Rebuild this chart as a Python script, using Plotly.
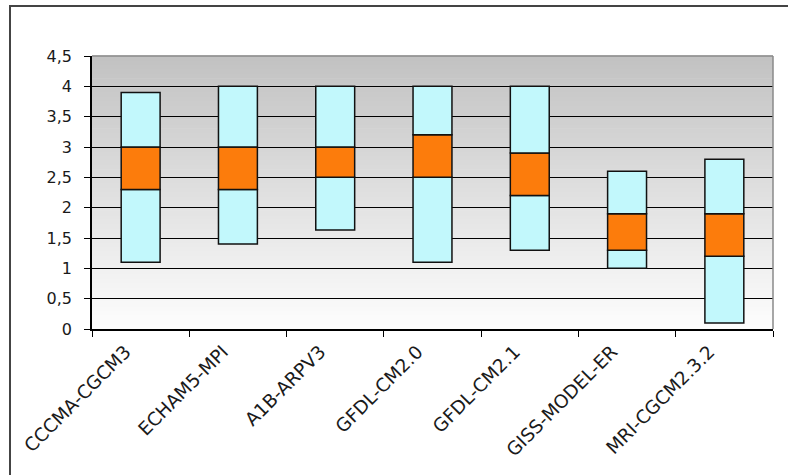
import plotly.graph_objects as go

models = ["CCCMA-CGCM3", "ECHAM5-MPI", "A1B-ARPV3", "GFDL-CM2.0",
          "GFDL-CM2.1", "GISS-MODEL-ER", "MRI-CGCM2.3.2"]
minimum = [1.1, 1.4, 1.63, 1.1, 1.3, 1.0, 0.1]
lower_q = [2.3, 2.3, 2.5, 2.5, 2.2, 1.3, 1.2]
upper_q = [3.0, 3.0, 3.0, 3.2, 2.9, 1.9, 1.9]
maximum = [3.9, 4.0, 4.0, 4.0, 4.0, 2.6, 2.8]

y_tickvals = [0, 0.5, 1, 1.5, 2, 2.5, 3, 3.5, 4, 4.5]
y_ticktext = ["0", "0,5", "1", "1,5", "2", "2,5", "3", "3,5", "4", "4,5"]

CYAN = "#c2f8fc"
ORANGE = "#fc7c0c"
EDGE = dict(color="#111111", width=1.5)

fig = go.Figure()
fig.add_trace(go.Bar(x=models, base=minimum,
                     y=[l - m for l, m in zip(lower_q, minimum)],
                     marker=dict(color=CYAN, line=EDGE), showlegend=False))
fig.add_trace(go.Bar(x=models, base=lower_q,
                     y=[u - l for u, l in zip(upper_q, lower_q)],
                     marker=dict(color=ORANGE, line=EDGE), showlegend=False))
fig.add_trace(go.Bar(x=models, base=upper_q,
                     y=[m - u for m, u in zip(maximum, upper_q)],
                     marker=dict(color=CYAN, line=EDGE), showlegend=False))

# gradient background (grey at top -> white at bottom)
shapes = []
n = 60
top = (0xc2, 0xc2, 0xc2)
bot = (0xfd, 0xfd, 0xfd)
for i in range(n):
    t = i / (n - 1)
    c = tuple(round(bot[k] + (top[k] - bot[k]) * t) for k in range(3))
    shapes.append(dict(type="rect", xref="paper", yref="paper",
                       x0=0, x1=1, y0=i / n, y1=(i + 1) / n + 0.002,
                       fillcolor="rgb(%d,%d,%d)" % c, line=dict(width=0),
                       layer="below"))
# plot-area border (top and right, grey)
shapes.append(dict(type="line", xref="paper", yref="paper", x0=0, x1=1, y0=1, y1=1,
                   line=dict(color="#8a8a8a", width=1.5)))
shapes.append(dict(type="line", xref="paper", yref="paper", x0=1, x1=1, y0=0, y1=1,
                   line=dict(color="#8a8a8a", width=1.5)))

W, H = 788, 475
L, R, T, B = 92, 15, 56, 146
pw, ph = W - L - R, H - T - B
def px(x):
    return (x - L) / pw
def py(y):
    return (H - B - y) / ph
# outer chart frame
shapes.append(dict(type="rect", xref="paper", yref="paper",
                   x0=px(10), x1=px(800), y0=py(490), y1=py(6),
                   line=dict(color="#444444", width=2), fillcolor="rgba(0,0,0,0)"))

fig.update_layout(
    width=W, height=H,
    margin=dict(l=L, r=R, t=T, b=B),
    paper_bgcolor="white",
    plot_bgcolor="white",
    barmode="overlay",
    bargap=0.6,
    shapes=shapes,
    font=dict(family="DejaVu Sans, Liberation Sans, sans-serif", color="#1a1a1a"),
)
fig.update_xaxes(
    type="category", tickangle=-45, tickfont=dict(size=18.5),
    showline=True, linecolor="black", linewidth=1.5,
    ticks="outside", tickson="boundaries", ticklen=6, tickcolor="black",
    showgrid=False, range=[-0.5, 6.5], ticklabelshift=-15, ticklabelstandoff=3,
)
fig.update_yaxes(
    range=[0, 4.5], tickvals=y_tickvals, ticktext=y_ticktext,
    tickfont=dict(size=16),
    showline=True, linecolor="black", linewidth=1.5,
    ticks="outside", ticklen=6, tickcolor="black",
    showgrid=True, gridcolor="black", gridwidth=1.3,
    zeroline=False, ticklabelstandoff=9,
)

fig.write_html("out.html", config={"displayModeBar": False},
               post_script="document.body.style.margin='0px';")
